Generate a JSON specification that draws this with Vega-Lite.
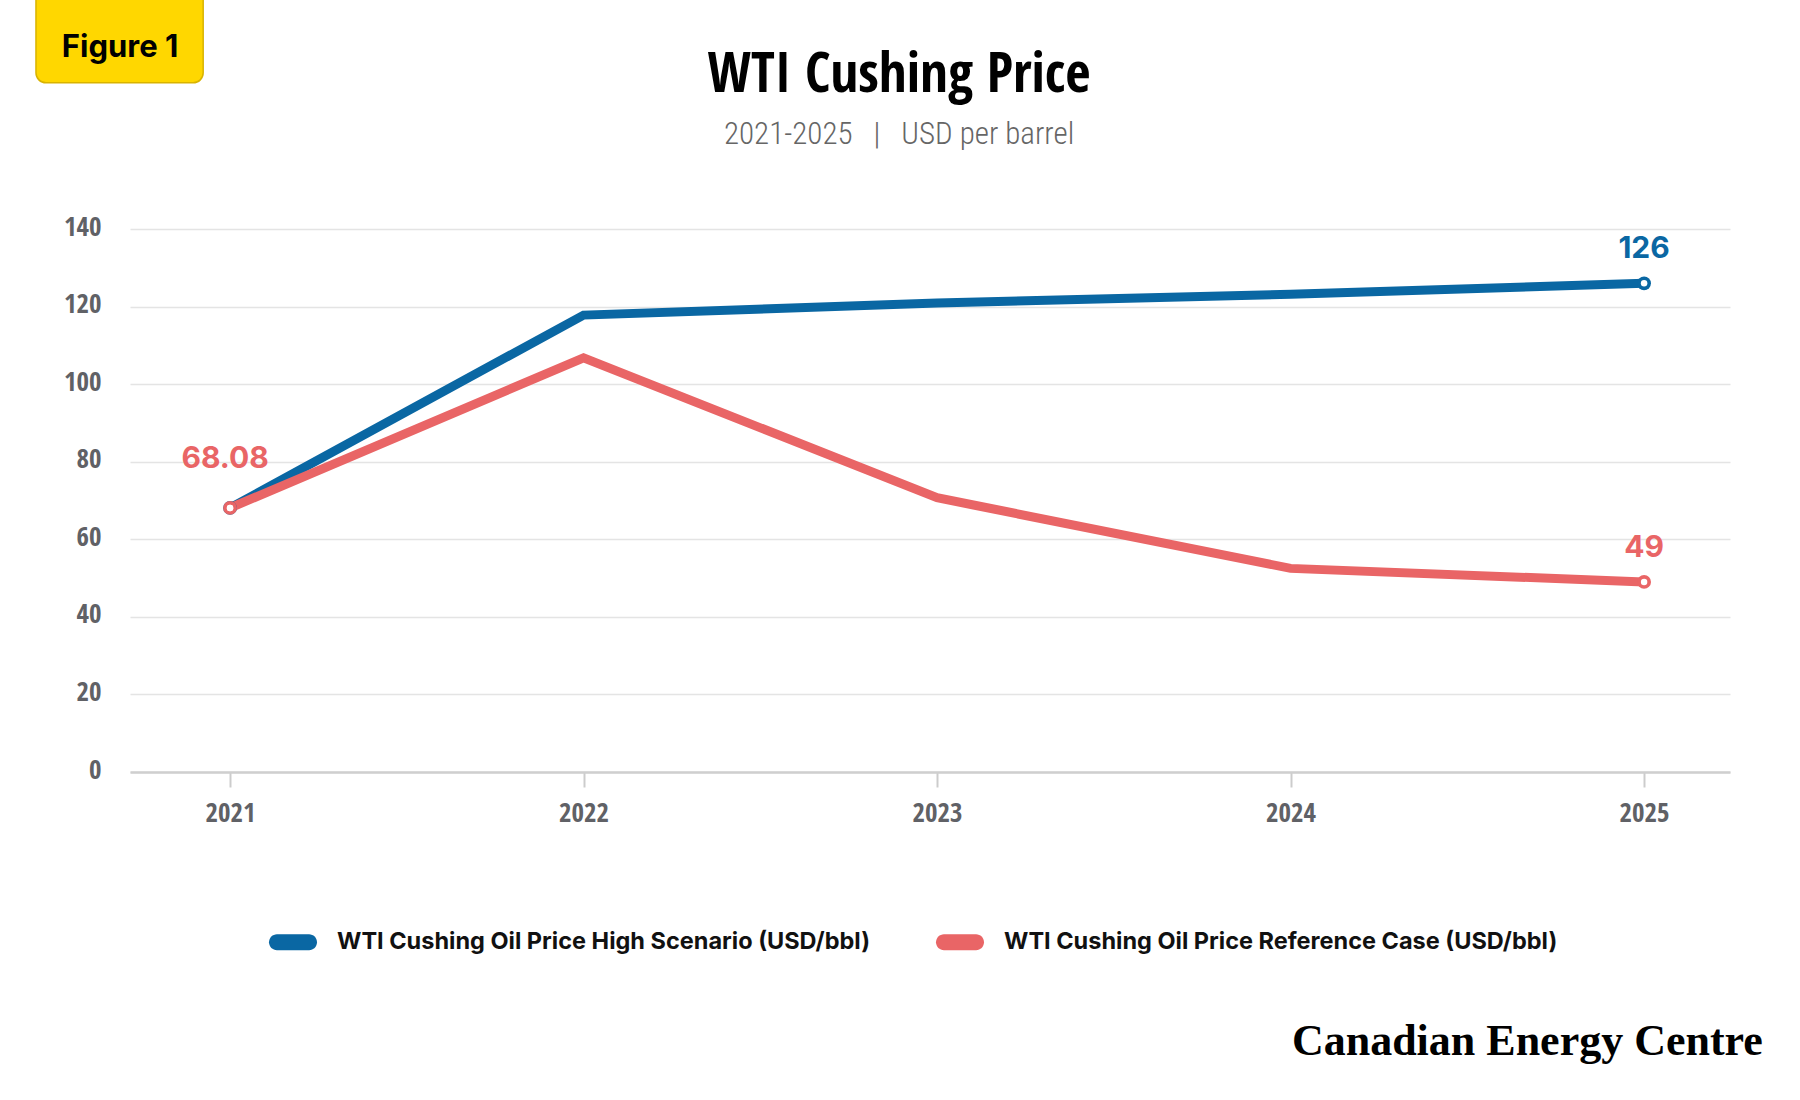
{
  "$schema": "https://vega.github.io/schema/vega-lite/v6.json",
  "width": 1600,
  "height": 543,
  "autosize": {"type": "none"},
  "padding": {"left": 130, "top": 229, "right": 70, "bottom": 328},
  "background": "white",
  "title": {
    "text": "WTI Cushing Price",
    "subtitle": "2021-2025\u00a0\u00a0\u00a0|\u00a0\u00a0\u00a0USD per barrel",
    "anchor": "middle",
    "frame": "bounds",
    "offset": -167,
    "font": "Open Sans Condensed, Roboto Condensed, Liberation Sans Narrow, DejaVu Sans Condensed, sans-serif",
    "fontSize": 55,
    "fontWeight": "bold",
    "color": "#000000",
    "subtitleFont": "Roboto Condensed, Open Sans Condensed, Liberation Sans Narrow, DejaVu Sans Condensed, sans-serif",
    "subtitleFontSize": 31,
    "subtitleFontWeight": 300,
    "subtitleColor": "#666666",
    "subtitlePadding": 16
  },
  "datasets": {
    "prices": [
      {"year": 2021, "series": "WTI Cushing Oil Price High Scenario (USD/bbl)", "price": 68.08},
      {"year": 2022, "series": "WTI Cushing Oil Price High Scenario (USD/bbl)", "price": 117.8},
      {"year": 2023, "series": "WTI Cushing Oil Price High Scenario (USD/bbl)", "price": 120.9},
      {"year": 2024, "series": "WTI Cushing Oil Price High Scenario (USD/bbl)", "price": 123.2},
      {"year": 2025, "series": "WTI Cushing Oil Price High Scenario (USD/bbl)", "price": 126},
      {"year": 2021, "series": "WTI Cushing Oil Price Reference Case (USD/bbl)", "price": 68.08},
      {"year": 2022, "series": "WTI Cushing Oil Price Reference Case (USD/bbl)", "price": 106.8},
      {"year": 2023, "series": "WTI Cushing Oil Price Reference Case (USD/bbl)", "price": 70.7},
      {"year": 2024, "series": "WTI Cushing Oil Price Reference Case (USD/bbl)", "price": 52.5},
      {"year": 2025, "series": "WTI Cushing Oil Price Reference Case (USD/bbl)", "price": 49}
    ]
  },
  "data": {"name": "prices"},
  "layer": [
    {
      "mark": {"type": "line", "strokeWidth": 9},
      "encoding": {
        "x": {
          "field": "year",
          "type": "quantitative",
          "title": null,
          "scale": {"domain": [2020.717, 2025.243], "nice": false, "zero": false},
          "axis": {
            "values": [2021, 2022, 2023, 2024, 2025],
            "format": "d",
            "grid": false,
            "tickSize": 15,
            "tickWidth": 2,
            "tickColor": "#cccccc",
            "domainColor": "#cfcfcf",
            "domainWidth": 2.5,
            "labelPadding": 13,
            "labelFont": "Open Sans Condensed, Roboto Condensed, Liberation Sans Narrow, DejaVu Sans Condensed, sans-serif",
            "labelFontSize": 27,
            "labelFontWeight": "bold",
            "labelColor": "#606166"
          }
        },
        "y": {
          "field": "price",
          "type": "quantitative",
          "title": null,
          "scale": {"domain": [0, 140], "nice": false},
          "axis": {
            "values": [0, 20, 40, 60, 80, 100, 120, 140],
            "domain": false,
            "ticks": false,
            "labelPadding": 29,
            "labelOffset": -2,
            "gridColor": "#e4e4e4",
            "gridWidth": 1.5,
            "labelFont": "Open Sans Condensed, Roboto Condensed, Liberation Sans Narrow, DejaVu Sans Condensed, sans-serif",
            "labelFontSize": 27,
            "labelFontWeight": "bold",
            "labelColor": "#606166"
          }
        },
        "detail": {"field": "series", "type": "nominal"},
        "stroke": {
          "condition": {"test": "datum.series == 'WTI Cushing Oil Price High Scenario (USD/bbl)'", "value": "#0a67a3"},
          "value": "#e96566"
        }
      }
    },
    {
      "transform": [{"filter": "datum.year == 2021 || datum.year == 2025"}],
      "mark": {"type": "circle", "size": 190, "opacity": 1},
      "encoding": {
        "x": {"field": "year", "type": "quantitative"},
        "y": {"field": "price", "type": "quantitative"},
        "color": {
          "field": "series",
          "type": "nominal",
          "scale": {
            "domain": ["WTI Cushing Oil Price High Scenario (USD/bbl)", "WTI Cushing Oil Price Reference Case (USD/bbl)"],
            "range": ["#0a67a3", "#e96566"]
          },
          "legend": {
            "orient": "none",
            "legendX": 139,
            "legendY": 689,
            "direction": "horizontal",
            "title": null,
            "padding": 0,
            "symbolType": "M -0.667 -0.333 L 0.667 -0.333 A 0.333 0.333 0 0 1 0.667 0.333 L -0.667 0.333 A 0.333 0.333 0 0 1 -0.667 -0.333 Z",
            "symbolSize": 2304,
            "symbolOpacity": 1,
            "symbolStrokeWidth": 0,
            "labelFont": "Inter",
            "labelFontSize": 23.5,
            "labelFontWeight": "bold",
            "labelColor": "#111111",
            "labelOffset": 20,
            "labelLimit": 800,
            "columnPadding": 64
          }
        }
      }
    },
    {
      "transform": [{"filter": "datum.year == 2021 || datum.year == 2025"}],
      "mark": {"type": "circle", "size": 42, "opacity": 1, "color": "white"},
      "encoding": {
        "x": {"field": "year", "type": "quantitative"},
        "y": {"field": "price", "type": "quantitative"}
      }
    },
    {
      "transform": [{"filter": "datum.year == 2025"}],
      "mark": {"type": "text", "dy": -25, "font": "Inter", "fontSize": 30, "fontWeight": "bold", "baseline": "alphabetic", "align": "center"},
      "encoding": {
        "x": {"field": "year", "type": "quantitative"},
        "y": {"field": "price", "type": "quantitative"},
        "text": {"field": "price", "type": "nominal"},
        "color": {
          "condition": {"test": "datum.series == 'WTI Cushing Oil Price High Scenario (USD/bbl)'", "value": "#0a67a3"},
          "value": "#e96566"
        }
      }
    },
    {
      "transform": [{"filter": "datum.year == 2021 && datum.series == 'WTI Cushing Oil Price Reference Case (USD/bbl)'"}],
      "mark": {"type": "text", "dy": -40, "dx": -5, "font": "Inter", "fontSize": 30, "fontWeight": "bold", "baseline": "alphabetic", "align": "center", "color": "#e96566"},
      "encoding": {
        "x": {"field": "year", "type": "quantitative"},
        "y": {"field": "price", "type": "quantitative"},
        "text": {"field": "price", "type": "nominal"}
      }
    },
    {
      "data": {"values": [{"label": "Figure 1"}]},
      "mark": {"type": "rect", "fill": "#ffd700", "stroke": "#d9b300", "strokeWidth": 1.5, "cornerRadius": 10},
      "encoding": {
        "x": {"datum": 2020.451, "type": "quantitative"},
        "x2": {"datum": 2020.924},
        "y": {"datum": 203, "type": "quantitative"},
        "y2": {"datum": 177.7}
      }
    },
    {
      "data": {"values": [{"label": "Figure 1"}]},
      "mark": {"type": "text", "font": "Inter", "fontSize": 31, "fontWeight": "bold", "color": "#000000", "align": "center", "baseline": "alphabetic"},
      "encoding": {
        "x": {"datum": 2020.689, "type": "quantitative"},
        "y": {"datum": 184.4, "type": "quantitative"},
        "text": {"field": "label", "type": "nominal"}
      }
    },
    {
      "data": {"values": [{"label": "Canadian Energy Centre"}]},
      "mark": {"type": "text", "font": "Liberation Serif, DejaVu Serif, serif", "fontSize": 44, "fontWeight": "bold", "color": "#000000", "align": "right", "baseline": "alphabetic"},
      "encoding": {
        "x": {"datum": 2025.336, "type": "quantitative"},
        "y": {"datum": -72.9, "type": "quantitative"},
        "text": {"field": "label", "type": "nominal"}
      }
    }
  ],
  "config": {"view": {"stroke": null}}
}
